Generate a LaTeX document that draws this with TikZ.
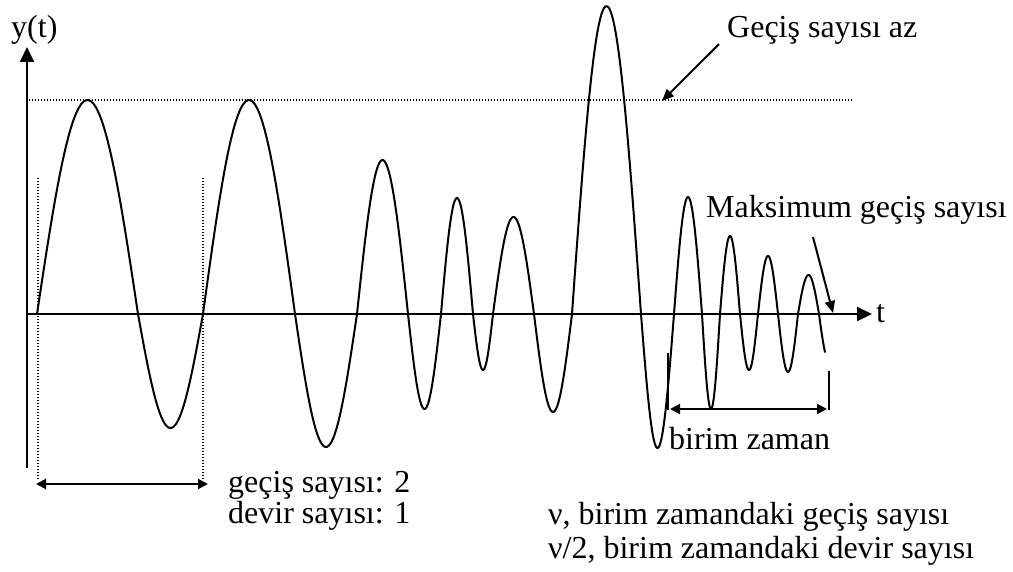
\documentclass[tikz,border=0pt]{standalone}
\usepackage{fontspec}
\setmainfont{Liberation Serif}
\usetikzlibrary{arrows.meta}
\begin{document}
\begin{tikzpicture}[x=1pt, y=-1pt, font=\fontsize{32}{37}\selectfont,
  lbl/.style={anchor=base west, inner sep=0pt},
  dots/.style={line width=1.2pt, dash pattern=on 1.2pt off 1.8pt},
  axis/.style={line width=2pt, -{Triangle[length=15pt,width=14pt]}},
  tip/.style={line width=2pt, -{Triangle[length=12pt,width=10pt]}},
  span/.style={line width=2pt, {Triangle[length=10pt,width=10pt]}-{Triangle[length=10pt,width=10pt]}}]
  \useasboundingbox (0,0) rectangle (1013,572);
  % axes
  \coordinate (O) at (27,314);
  \coordinate (ybot) at (27,468);
  \coordinate (ytop) at (27,47);
  \coordinate (tend) at (872,314);
  \draw[axis] (ybot) -- (ytop);
  \draw[axis] (O) -- (tend);
  \node[lbl] (ylbl) at (11,38) {y(t)};
  \node[lbl] (tlbl) at (876,323) {t};
  % level line
  \coordinate (lvlA) at (29,100);
  \coordinate (lvlB) at (853,100);
  \draw[dots] (lvlA) -- (lvlB);
  % signal, one half wave per entry: start/end/amplitude/last angle
  \foreach \a/\b/\A/\e in {37/138/214/180, 138/203/-114/180, 203/295/214/180, 295/357/-133/180,
      357/408/154/180, 408/441/-95/180, 441/473/116/180, 473/493/-56/180, 493/534/97/180,
      534/572/-98/180, 572/641/308/180, 641/674/-134/180, 674/702/117/180, 702/720/-95/180,
      720/740/78/180, 740/758/-56/180, 758/778/58/180, 778/798/-58/180, 798/819/39/180,
      819/839/-47/54} {
    \draw[line width=2pt, line cap=round] plot[domain=0:\e, samples=40, variable=\t]
      ({\a+(\b-\a)*(\t/180)}, {314-\A*sin(\t)});
  }
  % one cycle
  \foreach \x/\n in {38/cA, 203/cB} {
    \coordinate (\n top) at (\x,178);
    \coordinate (\n bot) at (\x,480);
    \draw[dots] (\n top) -- (\n bot);
  }
  \coordinate (cycL) at (36,484);
  \coordinate (cycR) at (208,484);
  \draw[span] (cycL) -- (cycR);
  \node[lbl] (gecis) at (228,492) {geçiş sayısı: 2};
  \node[lbl] (devir) at (228,523) {devir sayısı: 1};
  % unit time
  \coordinate (uLt) at (668,353);
  \coordinate (uLb) at (668,410);
  \coordinate (uRt) at (829,371);
  \coordinate (uRb) at (829,410);
  \draw[line width=2pt] (uLt) -- (uLb);
  \draw[line width=2pt] (uRt) -- (uRb);
  \coordinate (uL) at (670,409);
  \coordinate (uR) at (827,409);
  \draw[span] (uL) -- (uR);
  \node[lbl] (birim) at (669,449) {birim zaman};
  % notes
  \node[lbl] (az) at (727,38) {Geçiş sayısı az};
  \coordinate (azTip) at (662,101);
  \draw[tip] ([xshift=-8pt,yshift=1pt]az.south west) -- (azTip);
  \node[lbl] (maks) at (706,218) {Maksimum geçiş sayısı};
  \coordinate (maksFrom) at (813,237);
  \coordinate (maksTip) at (833,313);
  \draw[tip] (maksFrom) -- (maksTip);
  \node[lbl] (nuA) at (548,524) {ν, birim zamandaki geçiş sayısı};
  \node[lbl] (nuB) at (548,558) {ν/2, birim zamandaki devir sayısı};
\end{tikzpicture}
\end{document}
